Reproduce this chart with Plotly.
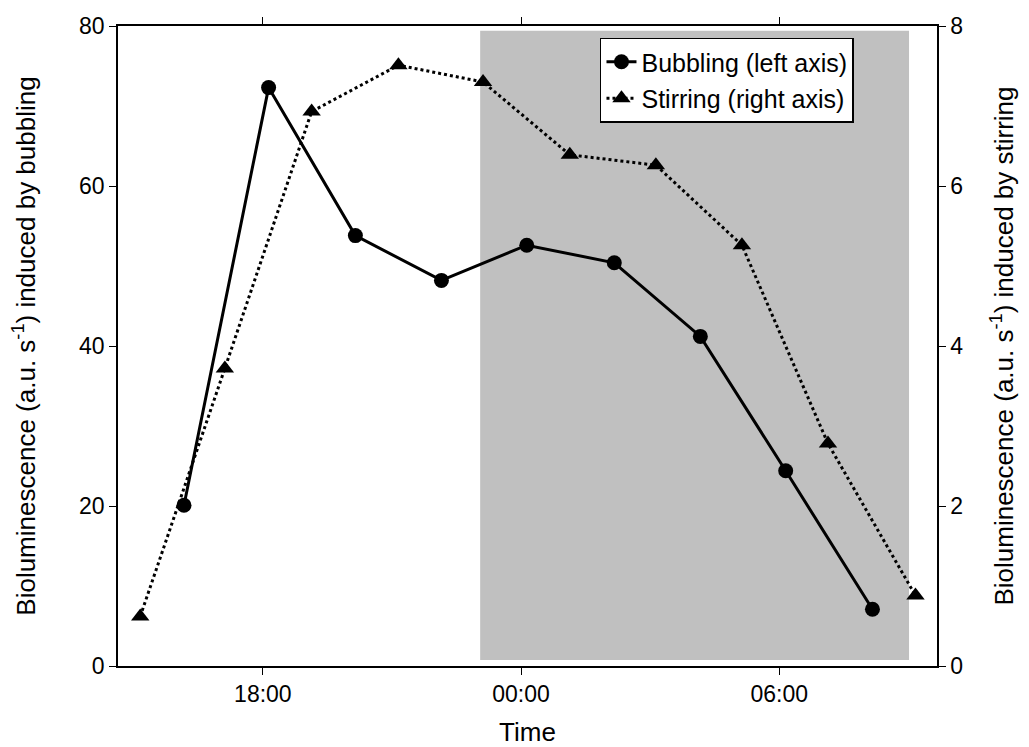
import plotly.graph_objects as go

# ---- data ----
bubbling_time = ["2000-01-01 16:10", "2000-01-01 18:08", "2000-01-01 20:09",
                 "2000-01-01 22:09", "2000-01-02 00:08", "2000-01-02 02:10",
                 "2000-01-02 04:10", "2000-01-02 06:09", "2000-01-02 08:10"]
bubbling_vals = [20.1, 72.3, 53.8, 48.2, 52.6, 50.4, 41.2, 24.4, 7.1]

stirring_time = ["2000-01-01 15:09", "2000-01-01 17:07", "2000-01-01 19:08",
                 "2000-01-01 21:09", "2000-01-01 23:07", "2000-01-02 01:08",
                 "2000-01-02 03:08", "2000-01-02 05:08", "2000-01-02 07:08",
                 "2000-01-02 09:10"]
stirring_vals = [0.62, 3.72, 6.93, 7.51, 7.30, 6.39, 6.26, 5.26, 2.78, 0.88]

night_start = "2000-01-01 23:03"
night_end = "2000-01-02 09:01"
night_low, night_high = 0.75, 79.4

x_range = ["2000-01-01 14:38", "2000-01-02 09:40"]
tick_start = "2000-01-01 18:00"

FONT = "Arial, 'Liberation Sans', sans-serif"

fig = go.Figure()

fig.add_trace(go.Scatter(
    x=bubbling_time, y=bubbling_vals, name="Bubbling (left axis)",
    mode="lines+markers",
    line=dict(color="black", width=3),
    marker=dict(symbol="circle", size=15, color="black"),
    yaxis="y", legendgroup="a",
))
fig.add_trace(go.Scatter(
    x=stirring_time, y=stirring_vals, name="Stirring (right axis)",
    mode="lines+markers",
    line=dict(color="black", width=3, dash="dot"),
    marker=dict(symbol="triangle-up", size=16, color="black"),
    yaxis="y2", legendgroup="b",
))

fig.add_shape(type="rect", xref="x", yref="y",
              x0=night_start, x1=night_end, y0=night_low, y1=night_high,
              fillcolor="#C0C0C0", line=dict(width=0), layer="below")

axis_common = dict(showline=True, linecolor="black", linewidth=1.5,
                   ticks="outside", ticklen=7, tickwidth=1.2, tickcolor="black",
                   showgrid=False, zeroline=False, automargin=False,
                   tickfont=dict(family=FONT, size=23, color="black"))

# page body has an 8px margin, so the figure is sized/offset to compensate
fig.update_layout(
    width=1021, height=739,
    margin=dict(l=110, r=92, t=18, b=81),
    paper_bgcolor="white", plot_bgcolor="white",
    font=dict(family=FONT, color="black"),
    xaxis=dict(type="date", range=x_range, tick0=tick_start, dtick=6 * 3600 * 1000,
               tickformat="%H:%M", mirror="ticks",
               title=dict(text="Time", font=dict(family=FONT, size=26), standoff=16),
               **axis_common),
    yaxis=dict(range=[0, 80], tickvals=[0, 20, 40, 60, 80], mirror=False,
               title=dict(text="Bioluminescence (a.u. s<sup>-1</sup>) induced by bubbling",
                          font=dict(family=FONT, size=26), standoff=38),
               **axis_common),
    yaxis2=dict(range=[0, 8], tickvals=[0, 2, 4, 6, 8], overlaying="y", side="right",
                title=dict(text="Bioluminescence (a.u. s<sup>-1</sup>) induced by stirring",
                           font=dict(family=FONT, size=26), standoff=32),
                **axis_common),
    legend=dict(x=0.5885, y=0.982, xanchor="left", yanchor="top",
                bgcolor="white", bordercolor="black", borderwidth=1.5,
                font=dict(family=FONT, size=25, color="black"),
                traceorder="grouped", tracegroupgap=1),
    showlegend=True,
)

fig.write_html("out.html")
